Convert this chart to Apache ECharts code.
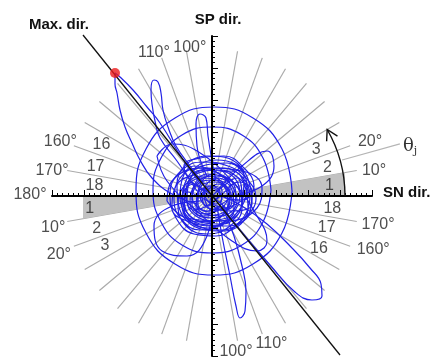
<!DOCTYPE html>
<html>
<head>
<meta charset="utf-8">
<script src="https://cdn.jsdelivr.net/npm/echarts@6/dist/echarts.min.js"></script>
<style>
  html, body { margin: 0; padding: 0; background: #fff; }
  #chart { width: 440px; height: 358px; }
</style>
</head>
<body>
<div id="chart"></div>
<script>
// gray direction lines, every 10 deg, each one drawn through the center
const rayAngles = [10, 20, 30, 40, 50, 60, 70, 80, 100, 110, 120, 130, 140, 150, 160, 170]
const rayRadius = 147

// sector numbers: [radius, angle, text]
const sectorLabels = [
  [118, 5, "1"], [119, 14, "2"], [114, 24, "3"],
  [123, 186, "1"], [120, 196, "2"], [118, 205, "3"],
  [122, 155, "16"], [120, 166, "17"], [118, 175, "18"],
  [119, 334, "16"], [119, 344.5, "17"], [121, 354, "18"],
]

// degree labels at the ray ends: [radius, angle, text]
const degreeLabels = [
  [164, 8.8, "10°"], [167, 18.9, "20°"],
  [161, 160.4, "160°"], [162, 171, "170°"], [182, 179.4, "180°"],
  [162, 191.4, "10°"], [164, 201, "20°"],
  [170, 341.5, "160°"], [168.5, 350.1, "170°"],
  [155, 112, "110°"], [150, 98.5, "100°"],
  [157, 278.8, "100°"], [159, 292, "110°"],
]

// shaded sector 1 (polar points: [radius, angle])
const wedges = [
  [[0, 0], [133, 0], [135, 10]],
  [[0, 0], [129, 180], [131, 190]],
]
const arcRadius = 133
const arcSpan = [0, 30]
const thetaLine = [[135, 15.5], [195, 15.5]]

// max direction line and the max point (cartesian)
const maxDirLine = [[-129, 161], [128, -159]]
const maxPoint = [[-97, 123]]

// blue trajectory
const loopMax = [[-10, 10], [-30, 38], [-52, 73], [-65, 89], [-79, 106], [-92, 119], [-97, 123], [-97, 112],
  [-95, 103], [-92, 86], [-87, 69], [-80, 53], [-72, 36], [-60, 18], [-40, 2], [-15, -8]]
const loop110 = [[-15, 5], [-35, 35], [-52, 58], [-57, 75], [-60, 92], [-61, 106], [-58, 116], [-54, 114],
  [-51, 103], [-49, 86], [-44, 69], [-36, 50], [-22, 30], [-8, 12]]
const loopTop = [[-5, 20], [-15, 50], [-16, 72], [-12, 82], [-6, 78], [-4, 60], [0, 35], [4, 15]]
const circleOuter = [[80, 5], [70, 47], [41, 78], [2, 89], [-37, 78], [-66, 47], [-76, 5], [-66, -37],
  [-37, -68], [2, -79], [41, -68], [70, -37], [80, 5]]
const circleInner = [[59, 6], [51, 38], [30, 61], [0, 69], [-30, 61], [-51, 38], [-59, 6], [-51, -26],
  [-30, -49], [0, -57], [30, -49], [51, -26], [59, 6]]
const loopSE = [[10, -10], [28, -34], [58, -69], [83, -96], [100, -104], [110, -100], [109, -88], [98, -72],
  [80, -52], [55, -28], [30, -10], [10, 0]]
const loopS = [[5, -10], [10, -40], [18, -80], [24, -110], [28, -122], [33, -115], [34, -95], [30, -70],
  [22, -40], [12, -15]]
const loopTilt = [[-55, 40], [-40, 52], [-15, 45], [20, 15], [45, -20], [55, -45], [45, -55], [20, -45],
  [-15, -15], [-45, 15], [-55, 40]]
const loopWide = [[-45, -5], [-40, 15], [-10, 28], [30, 25], [50, 8], [45, -12], [15, -25], [-25, -22], [-45, -5]]
const loopLeft = [[-10, -5], [-40, -10], [-58, -30], [-50, -55], [-25, -60], [-5, -40], [0, -10]]
const loopNE = [[5, 5], [30, 30], [55, 45], [62, 30], [50, 10], [20, 0]]
const core = [[0, 0], [25, 18], [30, -5], [10, -28], [-20, -22], [-28, 5], [-10, 30], [15, 33], [35, 10],
  [22, -20], [-5, -32], [-30, -10], [-22, 22], [5, 36], [32, 20], [28, -15], [0, -25], [-25, -5], [-15, 25],
  [12, 28], [38, 0], [18, -30], [-12, -28], [-32, 0], [-18, 30], [10, 20], [25, -5], [8, -20], [-15, -10],
  [-10, 15], [20, 25], [36, -12], [12, -35], [-25, -25], [-35, 12], [-5, 40], [28, 30], [40, -8], [15, -15],
  [-8, 5], [5, 18], [22, 5], [10, -8], [-5, -15], [-20, 0], [-5, 22], [18, 12], [14, -12], [-2, -5], [0, 0]]
const coreDense = [[-3, -2], [-18, 12], [-30, -2], [-22, -20], [-5, -26], [12, -18], [18, -2], [10, 14], [-6, 20],
  [-24, 14], [-34, -8], [-26, -30], [-4, -38], [18, -30], [30, -12], [26, 8], [8, 22], [-14, 28], [-32, 18],
  [-38, -4], [-30, -24], [-12, -34], [8, -28], [22, -14], [20, 6], [2, 16], [-16, 10], [-20, -8], [-8, -18],
  [8, -10], [10, 6], [-4, 10], [-12, 0], [-4, -10], [6, -2], [28, 14], [40, 4], [38, -16], [24, -30], [4, -40],
  [-18, -38], [-36, -22], [-42, 2], [-30, 26], [-8, 34], [16, 30], [34, 18], [44, -2], [30, -24], [10, -34],
  [-14, -30], [-28, -14], [-26, 6], [-10, 18], [10, 12], [16, -8], [2, -22], [-16, -16], [-14, 4], [0, 8],
  [14, -2], [30, -4], [42, 10], [32, 28], [12, 40], [-12, 38], [-28, 30], [-20, 14], [-2, 2], [16, -20],
  [4, -30], [-22, -26], [-40, -12], [-36, 10], [-16, 22], [6, 26], [24, 20], [36, 4], [20, -10], [0, -14], [-8, 0]]
const coreInner = [[-6, 4], [6, 12], [16, 4], [12, -10], [-2, -16], [-14, -8], [-12, 8], [2, 14], [14, 10],
  [20, -4], [8, -18], [-10, -20], [-22, -6], [-16, 12], [0, 20], [18, 16], [24, 0], [14, -14], [-4, -12],
  [-10, 2], [0, 6], [10, -2], [4, -8], [-6, -4], [-24, 4], [-28, -16], [-14, -26], [6, -24], [20, -18],
  [28, 2], [18, 22], [-2, 26], [-20, 20], [-26, 0], [-18, -14], [-2, -8], [8, 4], [-2, 10], [-10, -2]]

const trajectory = [loopMax, loop110, loopTop, circleOuter, circleInner, loopSE, loopS,
  loopTilt, loopWide, loopLeft, loopNE, core, coreDense, coreInner]

const FONT = "Liberation Sans"
const BLUE = "#2222e6"
const chart = echarts.init(document.getElementById("chart"))

const axisCommon = {
  type: "value",
  min: -160,
  max: 160,
  interval: 32,
  z: 5,
  axisLine: { onZero: true, lineStyle: { color: "#000", width: 2 } },
  axisTick: { inside: true, length: 6, lineStyle: { color: "#000", width: 1 } },
  minorTick: { show: true, splitNumber: 6, length: 3, lineStyle: { color: "#000", width: 1 } },
  axisLabel: { show: false },
  splitLine: { show: false },
}

const labelSeries = (items, size) => ({
  type: "scatter",
  coordinateSystem: "polar",
  symbolSize: 1,
  itemStyle: { color: "rgba(0,0,0,0)" },
  silent: true,
  z: 6,
  data: items.map((d) => ({ value: [d[0], d[1]], name: d[2] })),
  label: {
    show: true,
    position: "inside",
    formatter: "{b}",
    fontFamily: FONT,
    fontSize: size,
    color: "#222",
  },
})

const option = {
  animation: false,
  grid: { left: 52, top: 36, width: 320, height: 320 },
  xAxis: axisCommon,
  yAxis: axisCommon,
  polar: { center: [212, 196], radius: 220 },
  angleAxis: { type: "value", min: 0, max: 360, startAngle: 0, clockwise: false, show: false },
  radiusAxis: { type: "value", min: 0, max: 220, show: false },
  graphic: [
    { type: "text", x: 59, y: 25, style: { text: "Max. dir.", font: "bold 15px " + FONT, fill: "#111", textAlign: "center", textVerticalAlign: "middle" } },
    { type: "text", x: 218, y: 20, style: { text: "SP dir.", font: "bold 15px " + FONT, fill: "#111", textAlign: "center", textVerticalAlign: "middle" } },
    { type: "text", x: 383, y: 193, style: { text: "SN dir.", font: "bold 15px " + FONT, fill: "#111", textAlign: "left", textVerticalAlign: "middle" } },
    {
      type: "text", x: 403, y: 146,
      style: {
        text: "{t|θ}{s|j}",
        rich: {
          t: { fontFamily: "DejaVu Serif", fontSize: 18, fill: "#333" },
          s: { fontFamily: "DejaVu Serif", fontSize: 11, fill: "#333", padding: [10, 0, 0, 0] },
        },
        textVerticalAlign: "middle",
      },
    },
  ],
  series: [
    {
      // gray rays
      type: "custom",
      coordinateSystem: "polar",
      silent: true,
      z: 1,
      data: rayAngles.map((a) => [rayRadius, a]),
      renderItem: (params, api) => {
        const r = api.value(0)
        const a = api.value(1)
        const p1 = api.coord([r, a])
        const p2 = api.coord([r, a + 180])
        return {
          type: "line",
          shape: { x1: p1[0], y1: p1[1], x2: p2[0], y2: p2[1] },
          style: { stroke: "#ababab", lineWidth: 1.2 },
        }
      },
    },
    {
      // shaded sector
      type: "custom",
      coordinateSystem: "polar",
      silent: true,
      z: 1,
      data: wedges.map((w, i) => [0, i]),
      renderItem: (params, api) => ({
        type: "polygon",
        shape: { points: wedges[params.dataIndex].map((p) => api.coord(p)) },
        style: { fill: "#c2c2c2" },
      }),
    },
    {
      // theta_j guide line
      type: "custom",
      coordinateSystem: "polar",
      silent: true,
      z: 1,
      data: [[0, 0]],
      renderItem: (params, api) => {
        const p1 = api.coord(thetaLine[0])
        const p2 = api.coord(thetaLine[1])
        return {
          type: "line",
          shape: { x1: p1[0], y1: p1[1], x2: p2[0], y2: p2[1] },
          style: { stroke: "#b5b5b5", lineWidth: 1.1 },
        }
      },
    },
    {
      // curved arrow for theta_j
      type: "custom",
      coordinateSystem: "polar",
      silent: true,
      z: 7,
      data: [[0, 0]],
      renderItem: (params, api) => {
        const c = api.coord([0, 0])
        const e = api.coord([arcRadius, 0])
        const r = Math.abs(e[0] - c[0])
        const end = arcSpan[1]
        return {
          type: "group",
          children: [
            {
              type: "arc",
              shape: { cx: c[0], cy: c[1], r: r, startAngle: -arcSpan[0] * Math.PI / 180, endAngle: -end * Math.PI / 180, clockwise: false },
              style: { stroke: "#111", lineWidth: 1.4, fill: null },
            },
            {
              type: "polyline",
              shape: { points: [api.coord([arcRadius - 6, end - 4.5]), api.coord([arcRadius, end]), api.coord([arcRadius + 6, end - 4.5])] },
              style: { stroke: "#111", lineWidth: 1.4, fill: null },
            },
          ],
        }
      },
    },
    labelSeries(sectorLabels, 16),
    labelSeries(degreeLabels, 16),
    ...trajectory.map((seg) => ({
      type: "line",
      data: seg,
      smooth: 0.45,
      showSymbol: false,
      clip: false,
      silent: true,
      z: 3,
      lineStyle: { color: BLUE, width: 1.2 },
    })),
    {
      type: "line",
      data: maxDirLine,
      showSymbol: false,
      clip: false,
      silent: true,
      z: 4,
      lineStyle: { color: "#111", width: 1.3 },
    },
    {
      type: "scatter",
      data: maxPoint,
      symbolSize: 10,
      clip: false,
      silent: true,
      z: 8,
      itemStyle: { color: "#ec1c1c" },
    },
  ],
}

chart.setOption(option)
</script>
</body>
</html>
